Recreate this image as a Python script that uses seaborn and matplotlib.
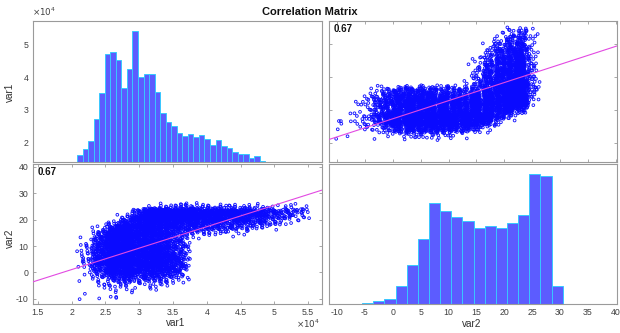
import numpy as np
import pandas as pd
import matplotlib
matplotlib.use("Agg")
import matplotlib.pyplot as plt
import seaborn as sns
from matplotlib.ticker import FuncFormatter

sns.set_theme(style="white")
plt.rcParams["font.family"] = ["Liberation Sans", "DejaVu Sans"]

# ---- data -------------------------------------------------------------
# var1 histogram (diagonal, top-left): bin layout and counts
var1_hist_start = 20800
var1_hist_width = 820
var1_hist_counts = [23, 42, 71, 146, 233, 366, 371, 347, 252, 316, 444, 289,
                    297, 298, 236, 167, 135, 121, 97, 88, 94, 83, 90, 76, 56,
                    74, 53, 48, 33, 26, 26, 12, 19, 3]

# var2 histogram (diagonal, bottom-right)
var2_hist_start = -5.5
var2_hist_width = 2
var2_hist_counts = [6, 12, 21, 78, 168, 279, 431, 397, 371, 354, 325, 334,
                    325, 345, 381, 553, 544, 78]

# joint density table of the observations: one list per var1 column
# (var1 column edges below), each giving counts for var2 rows of width 2
var1_cell_edges = [21000, 23000, 25000, 27000, 29000, 31000, 33000, 35000,
                   37000, 39000, 41000, 43000, 45000, 47000, 49000, 51000,
                   53000, 55000]
var2_cell_edges = [-10, -8, -6, -4, -2, 0, 2, 4, 6, 8, 10, 12, 14, 16, 18,
                   20, 22, 24, 26]
cell_counts = [
    [2, 0, 0, 1, 1, 2, 4, 6, 6, 4, 3, 1, 0, 0, 0, 0, 0, 0],
    [1, 1, 2, 5, 12, 20, 30, 32, 30, 28, 24, 18, 12, 2, 0, 0, 0, 0],
    [2, 3, 5, 14, 30, 55, 71, 71, 69, 67, 64, 62, 57, 25, 4, 0, 0, 0],
    [1, 3, 5, 16, 41, 62, 74, 72, 70, 68, 66, 66, 68, 68, 30, 8, 0, 0],
    [0, 0, 2, 12, 26, 38, 52, 50, 48, 46, 44, 40, 42, 46, 50, 52, 20, 0],
    [0, 2, 4, 14, 30, 46, 61, 59, 52, 50, 46, 46, 50, 54, 60, 74, 82, 3],
    [0, 0, 2, 10, 24, 38, 44, 42, 40, 38, 34, 34, 38, 42, 48, 70, 83, 8],
    [0, 0, 0, 6, 12, 20, 24, 24, 22, 20, 18, 18, 22, 28, 36, 62, 81, 10],
    [0, 0, 0, 0, 0, 0, 0, 0, 0, 0, 0, 2, 10, 30, 46, 72, 86, 10],
    [0, 0, 0, 0, 0, 0, 0, 0, 0, 0, 0, 0, 6, 24, 34, 52, 62, 7],
    [0, 0, 0, 0, 0, 0, 0, 0, 0, 0, 0, 0, 5, 22, 32, 52, 60, 6],
    [0, 0, 0, 0, 0, 0, 0, 0, 0, 0, 0, 0, 4, 18, 30, 50, 58, 6],
    [0, 0, 0, 0, 0, 0, 0, 0, 0, 0, 0, 0, 1, 10, 24, 40, 50, 5],
    [0, 0, 0, 0, 0, 0, 0, 0, 0, 0, 0, 0, 0, 6, 20, 32, 39, 4],
    [0, 0, 0, 0, 0, 0, 0, 0, 0, 0, 0, 0, 0, 2, 10, 20, 24, 3],
    [0, 0, 0, 0, 0, 0, 0, 0, 0, 0, 0, 0, 0, 0, 2, 12, 20, 4],
    [0, 0, 0, 0, 0, 0, 0, 0, 0, 0, 0, 0, 0, 0, 0, 6, 13, 3],
]

# summary statistics used for the correlation label and the fit lines
corr_r = 0.67
var1_mean, var1_std = 34300, 7000
var2_mean, var2_std = 12.7, 8.5

var1_ticks = [15000, 20000, 25000, 30000, 35000, 40000, 45000, 50000, 55000]
var1_hist_ticks = [20000, 30000, 40000, 50000]
var2_ticks_y = [-10, 0, 10, 20, 30, 40]
var2_ticks_x = [-10, -5, 0, 5, 10, 15, 20, 25, 30, 35, 40]

var1_lim = (14200, 57100)
var2_xlim = (-11.4, 40.2)
var2_ylim = (-12.0, 41.0)

# ---- expand the density table into individual observations -----------
# each cell's count is spread around the cell centre with a soft triangular
# profile (sum of two low-discrepancy coordinates) so neighbouring cells blend
phi = 1.1673039782614187
alphas = [(1 / phi) ** p for p in range(1, 5)]
spread = 0.8
v1_pts, v2_pts = [], []
k = 0
for j, col in enumerate(cell_counts):
    x0, x1 = var1_cell_edges[j], var1_cell_edges[j + 1]
    for i, n in enumerate(col):
        y0, y1 = var2_cell_edges[i], var2_cell_edges[i + 1]
        for _ in range(n):
            q = [(0.5 + a * (k + 1)) % 1.0 for a in alphas]
            ox = 0.5 + (q[0] + q[2] - 1.0) * spread
            oy = 0.5 + (q[1] + q[3] - 1.0) * spread
            v1_pts.append(x0 + ox * (x1 - x0))
            v2_pts.append(y0 + oy * (y1 - y0))
            k += 1
obs = pd.DataFrame({"var1": v1_pts, "var2": v2_pts})

var1_edges = var1_hist_start + var1_hist_width * np.arange(len(var1_hist_counts) + 1)
var2_edges = var2_hist_start + var2_hist_width * np.arange(len(var2_hist_counts) + 1)
h1 = pd.DataFrame({"x": var1_edges[:-1] + var1_hist_width / 2,
                   "n": var1_hist_counts})
h2 = pd.DataFrame({"x": var2_edges[:-1] + var2_hist_width / 2,
                   "n": var2_hist_counts})

# ---- styling ----------------------------------------------------------
spine_col = "#9a9a9a"
tick_lab_col = "#404040"
pt_col = "#0a0aff"
line_col = "#e24ae2"
bar_face = "#5c5cff"
bar_edge = "#38c8ff"
tick_fs = 6.3
lab_fs = 7.2
pt_size = 3.8
pt_lw = 0.65

fig = plt.figure(figsize=(6.2, 3.33), dpi=100)
L, WL = 32.5 / 620, 289.8 / 620
R, WR = 329.3 / 620, 287.5 / 620
BT, HT = (333 - 161.7) / 333, 140.7 / 333
BB, HB = (333 - 304) / 333, 139.7 / 333

ax_tl = fig.add_axes([L, BT, WL, HT])
ax_tr = fig.add_axes([R, BT, WR, HT])
ax_bl = fig.add_axes([L, BB, WL, HB])
ax_br = fig.add_axes([R, BB, WR, HB])

for ax in (ax_tl, ax_tr, ax_bl, ax_br):
    for s in ax.spines.values():
        s.set_color(spine_col)
        s.set_linewidth(0.8)
    ax.tick_params(direction="in", length=2.2, width=0.6, color=spine_col,
                   labelcolor=tick_lab_col, labelsize=tick_fs, pad=3,
                   top=True, right=True, bottom=True, left=True,
                   labelbottom=False, labelleft=False)

e4 = FuncFormatter(lambda x, p: f"{x / 1e4:g}")
plain = FuncFormatter(lambda x, p: f"{x:g}")

# ---- top-left: var1 histogram -----------------------------------------
ax_tl.set_xlim(*var1_lim)
ax_tl.set_ylim(*var1_lim)
ax_tl.set_yticks(var1_hist_ticks)
ax_tl.yaxis.set_major_formatter(e4)
ax_tl.set_xticks([])
ax_tl.tick_params(length=0, labelleft=True)
axh = ax_tl.twinx()
sns.histplot(data=h1, x="x", weights="n", bins=list(var1_edges),
             ax=axh, color=bar_face, edgecolor=bar_edge, linewidth=0.7,
             alpha=1.0)
axh.set_ylim(0, max(var1_hist_counts) / 0.929)
axh.set_xlim(*var1_lim)
axh.set_yticks([])
axh.set(xlabel="", ylabel="")
for s in axh.spines.values():
    s.set_visible(False)
ax_tl.text(0.0, 1.02, r"$\times10^{4}$", transform=ax_tl.transAxes,
           ha="left", va="bottom", fontsize=tick_fs, color=tick_lab_col)
ax_tl.set_ylabel("")
fig.text(10 / 620, 1 - 92 / 333, "var1", rotation=90, ha="center",
         va="center", fontsize=lab_fs, color="#303030")

# ---- top-right: var1 against var2 -------------------------------------
sns.scatterplot(data=obs, x="var2", y="var1", ax=ax_tr, s=pt_size,
                facecolor="none", edgecolor=pt_col, linewidth=pt_lw,
                alpha=0.95, zorder=2)
ax_tr.axline((var2_mean, var1_mean),
             slope=corr_r * var1_std / var2_std, color=line_col, lw=0.8,
             zorder=3)
ax_tr.set_xlim(*var2_xlim)
ax_tr.set_ylim(*var1_lim)
ax_tr.set_xticks(var2_ticks_x)
ax_tr.set_yticks(var1_hist_ticks)
ax_tr.set(xlabel="", ylabel="")
ax_tr.text(0.016, 0.943, f"{corr_r:.2f}", transform=ax_tr.transAxes,
           ha="left", va="center", fontsize=7, fontweight="bold",
           color="#111111")

# ---- bottom-left: var2 against var1 -----------------------------------
sns.scatterplot(data=obs, x="var1", y="var2", ax=ax_bl, s=pt_size,
                facecolor="none", edgecolor=pt_col, linewidth=pt_lw,
                alpha=0.95, zorder=2)
ax_bl.axline((var1_mean, var2_mean),
             slope=corr_r * var2_std / var1_std, color=line_col, lw=0.8,
             zorder=3)
ax_bl.set_xlim(*var1_lim)
ax_bl.set_ylim(*var2_ylim)
ax_bl.set_xticks(var1_ticks)
ax_bl.set_yticks(var2_ticks_y)
ax_bl.xaxis.set_major_formatter(e4)
ax_bl.yaxis.set_major_formatter(plain)
ax_bl.tick_params(labelbottom=True, labelleft=True)
ax_bl.set(xlabel="", ylabel="")
ax_bl.text(0.019, 0.945, f"{corr_r:.2f}", transform=ax_bl.transAxes,
           ha="left", va="center", fontsize=7, fontweight="bold",
           color="#111111")
fig.text(320 / 620, 1 - 324 / 333, r"$\times10^{4}$", ha="right",
         va="center", fontsize=tick_fs, color=tick_lab_col)
fig.text(10 / 620, 1 - 238 / 333, "var2", rotation=90, ha="center",
         va="center", fontsize=lab_fs, color="#303030")
fig.text(176 / 620, 1 - 323 / 333, "var1", ha="center", va="center",
         fontsize=lab_fs, color="#303030")

# ---- bottom-right: var2 histogram -------------------------------------
sns.histplot(data=h2, x="x", weights="n", bins=list(var2_edges),
             ax=ax_br, color=bar_face, edgecolor=bar_edge, linewidth=0.7,
             alpha=1.0)
ax_br.set_xlim(*var2_xlim)
ax_br.set_ylim(0, max(var2_hist_counts) / 0.928)
ax_br.set_xticks(var2_ticks_x)
ax_br.xaxis.set_major_formatter(plain)
ax_br.set_yticks([])
ax_br.tick_params(length=0, labelbottom=True)
ax_br.set(xlabel="", ylabel="")
fig.text(472 / 620, 1 - 324 / 333, "var2", ha="center", va="center",
         fontsize=lab_fs, color="#303030")

fig.text(0.5, 1 - 12 / 333, "Correlation Matrix", ha="center", va="center",
         fontsize=8, fontweight="bold", color="#111111")

fig.savefig("out.png", dpi=100)
